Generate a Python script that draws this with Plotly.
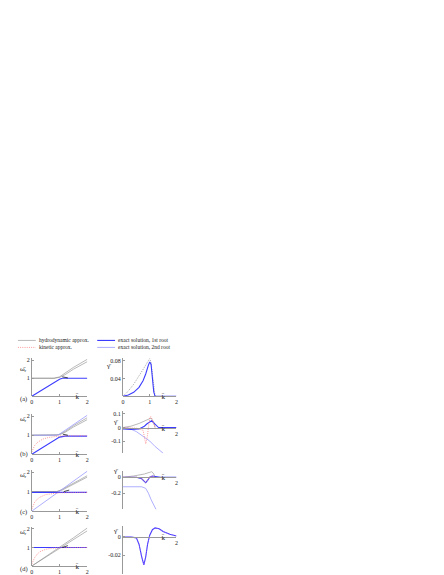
import plotly.graph_objects as go

W, H = 444, 575

# ---- data ----
# (a)
a_hydro_k = [0, 0.8, 1.0, 1.2, 1.5, 2.0]
a_hydro1_w = [1, 1, 1.05, 1.2, 1.5, 1.92]
a_hydro2_w = [1, 1, 1.08, 1.28, 1.6, 2.05]
a_exact1_k = [0, 0.5, 0.9, 1.0, 1.1, 1.2, 1.4, 2.0]
a_exact1_w = [0, 0.48, 0.86, 0.95, 1.0, 1.0, 1.0, 1.0]
a_mark_k = [1.1, 1.3]
a_mark_w = [1.08, 1.02]
a_g_exact1_k = [0, 0.2, 0.4, 0.6, 0.75, 0.85, 0.95, 1.0, 1.05, 1.1, 1.15, 1.2, 2.0]
a_g_exact1 = [0, 0.003, 0.009, 0.02, 0.035, 0.05, 0.07, 0.077, 0.072, 0.045, 0.01, 0, 0]
a_g_dot_k = [0, 0.2, 0.4, 0.6, 0.8, 0.95, 1.0, 1.05, 1.1, 1.15, 1.2]
a_g_dot = [0, 0.012, 0.027, 0.045, 0.065, 0.08, 0.085, 0.075, 0.05, 0.02, 0]

# (b)
b_hydro_k = [0, 0.9, 1.0, 1.2, 1.5, 2.0]
b_hydro1_w = [1, 1, 1.03, 1.15, 1.43, 1.82]
b_hydro2_w = [1, 1, 1.05, 1.2, 1.5, 1.92]
b_exact2_k = [0, 0.9, 1.0, 1.2, 1.5, 2.0]
b_exact2_w = [1, 1, 1.06, 1.26, 1.56, 2.05]
b_exact1_k = [0, 0.5, 0.9, 1.0, 1.2, 2.0]
b_exact1_w = [0, 0.45, 0.83, 0.9, 0.95, 0.95]
b_kin_k = [0, 0.05, 0.1, 0.2, 0.3, 0.4, 0.6, 0.8, 1.0, 1.5, 2.0]
b_kin_w = [0.12, 0.3, 0.45, 0.62, 0.72, 0.8, 0.88, 0.93, 0.96, 0.97, 0.97]
b_mark_k = [1.12, 1.3]
b_mark_w = [1.05, 1.0]
b_g_hydro_k = [0, 0.3, 0.6, 0.8, 0.95, 1.05, 1.15, 1.2]
b_g_hydro = [0, 0.01, 0.03, 0.05, 0.065, 0.07, 0.04, 0]
b_g_kin_k = [0, 0.5, 0.75, 0.8, 0.85, 0.9, 0.95, 1.0, 1.05, 1.1, 1.2]
b_g_kin = [0, -0.005, -0.02, -0.08, -0.12, -0.08, 0.02, 0.075, 0.08, 0.05, 0]
b_g_exact1_k = [0, 0.3, 0.6, 0.7, 0.8, 0.9, 1.0, 1.07, 1.15, 1.33, 2.0]
b_g_exact1 = [-0.01, -0.014, -0.01, -0.002, 0.01, 0.028, 0.045, 0.05, 0.035, 0, 0]
b_g_exact2_k = [0, 0.2, 0.5, 0.8, 1.0, 1.2, 1.5]
b_g_exact2 = [0, -0.003, -0.03, -0.07, -0.1, -0.14, -0.19]

# (c)
c_hydro_k = [0, 0.9, 1.1, 1.5, 2.0]
c_hydro1_w = [1, 1, 1.08, 1.38, 1.75]
c_hydro2_w = [1, 1, 1.12, 1.45, 1.82]
c_exact2_k = [0, 1.0, 2.0]
c_exact2_w = [0, 1.02, 2.05]
c_exact1_k = [0, 1.0, 2.0]
c_exact1_w = [0.96, 0.96, 0.96]
c_kin_k = [0, 0.05, 0.1, 0.2, 0.3, 0.5, 0.7, 1.0, 2.0]
c_kin_w = [0.1, 0.3, 0.45, 0.62, 0.72, 0.85, 0.9, 0.94, 0.96]
c_mark_k = [1.15, 1.35]
c_mark_w = [1.0, 1.08]
c_g_hydro_k = [0, 0.4, 0.8, 1.0, 1.08, 1.15, 1.2]
c_g_hydro = [0, 0.015, 0.04, 0.06, 0.07, 0.04, 0]
c_g_exact1_k = [0, 0.5, 0.7, 0.8, 0.85, 0.92, 1.0, 1.1, 1.2, 1.4, 2.0]
c_g_exact1 = [0, 0, -0.02, -0.05, -0.07, -0.04, 0.0, 0.015, 0.01, 0, 0]
c_g_exact2_k = [0, 0.4, 0.7, 0.85, 0.95, 1.05, 1.15, 1.26]
c_g_exact2 = [-0.12, -0.12, -0.12, -0.14, -0.2, -0.28, -0.35, -0.42]
c_g_kin_k = [0, 0.5, 0.7, 0.8, 0.85, 0.92, 1.0, 1.1, 1.2]
c_g_kin = [0, 0, -0.015, -0.045, -0.065, -0.035, 0.005, 0.015, 0]

# (d)
d_hydro_k = [0, 0.5, 1.0, 1.5, 2.0]
d_hydro1_w = [0, 0.47, 0.95, 1.42, 1.9]
d_hydro2_w = [0, 0.5, 1.01, 1.52, 2.05]
d_exact1_k = [0, 2.0]
d_exact1_w = [1.0, 1.0]
d_kin_k = [0, 0.05, 0.1, 0.2, 0.3, 0.5, 0.7, 1.0, 2.0]
d_kin_w = [0.1, 0.3, 0.45, 0.65, 0.78, 0.9, 0.96, 0.99, 1.0]
d_mark_k = [1.1, 1.3]
d_mark_w = [1.0, 1.1]
d_g_exact1_k = [0, 0.3, 0.5, 0.6, 0.7, 0.78, 0.85, 0.92, 1.0, 1.1, 1.2, 1.35, 1.5, 1.75, 2.0]
d_g_exact1 = [0, 0, -0.001, -0.008, -0.022, -0.031, -0.022, -0.008, 0.002, 0.008, 0.01, 0.009, 0.006, 0.003, 0.001]

# ---- styles ----
GRAY = dict(color='#8a8a8a', width=0.6)
GRAYDOT = dict(color='#8a8a8a', width=0.8, dash='1px,1.2px')
PINK = dict(color='#ff8080', width=0.8, dash='1px,1.2px')
BLUE = dict(color='#3c3cff', width=1.1)
LBLUE = dict(color='#9a9aff', width=0.8)
BLACK = dict(color='black', width=0.7)
FONT = dict(family='Liberation Serif', size=6, color='#222222')


def px(x):
    return x / W


def py(y):
    return 1 - y / H


# panel layout in pixels: (left px, right px, top px, bottom px, yrange)
panels = [
    (22, 78, 350, 388, [0, 2.1]),
    (114, 168, 350, 388, [0, 0.085]),
    (22, 78, 406, 446, [0, 2.1]),
    (114, 168, 403, 445, [-0.19, 0.12]),
    (22, 78, 462, 503, [0, 2.1]),
    (114, 168, 463, 501, [-0.4, 0.075]),
    (22, 78, 519, 558, [0, 2.1]),
    (114, 168, 518, 566, [-0.041, 0.012]),
]
ytick = [
    ([1, 2], ['1', '2']),
    ([0.04, 0.08], ['0.04', '0.08']),
    ([1, 2], ['1', '2']),
    ([-0.1, 0, 0.1], ['-0.1', '0', '0.1']),
    ([1, 2], ['1', '2']),
    ([-0.2, 0], ['-0.2', '0']),
    ([1, 2], ['1', '2']),
    ([-0.02, 0], ['-0.02', '0']),
]
xtick = [
    ([0, 1, 2], ['0', '1', '2']),
    ([0, 1, 2], ['0', '1', '2']),
    ([0, 1, 2], ['0', '1', '2']),
    ([2], ['2']),
    ([0, 1, 2], ['0', '1', '2']),
    ([2], ['2']),
    ([0, 1, 2], ['0', '1', '2']),
    ([2], ['2']),
]

fig = go.Figure()


def add(i, k, v, line):
    n = '' if i == 0 else str(i + 1)
    fig.add_trace(go.Scatter(x=k, y=v, mode='lines', line=line,
                             xaxis='x' + n, yaxis='y' + n,
                             showlegend=False, hoverinfo='skip'))


# (a)
add(0, a_hydro_k, a_hydro1_w, GRAY)
add(0, a_hydro_k, a_hydro2_w, GRAY)
add(0, a_exact1_k, a_exact1_w, BLUE)
add(0, a_mark_k, a_mark_w, BLACK)
add(1, a_g_dot_k, a_g_dot, GRAYDOT)
add(1, a_g_exact1_k, a_g_exact1, BLUE)
# (b)
add(2, b_hydro_k, b_hydro1_w, GRAY)
add(2, b_hydro_k, b_hydro2_w, GRAY)
add(2, b_exact2_k, b_exact2_w, LBLUE)
add(2, b_exact1_k, b_exact1_w, BLUE)
add(2, b_kin_k, b_kin_w, PINK)
add(2, b_mark_k, b_mark_w, BLACK)
add(3, b_g_hydro_k, b_g_hydro, GRAY)
add(3, b_g_exact2_k, b_g_exact2, LBLUE)
add(3, b_g_exact1_k, b_g_exact1, BLUE)
add(3, b_g_kin_k, b_g_kin, PINK)
# (c)
add(4, c_hydro_k, c_hydro1_w, GRAY)
add(4, c_hydro_k, c_hydro2_w, GRAY)
add(4, c_exact2_k, c_exact2_w, LBLUE)
add(4, c_exact1_k, c_exact1_w, BLUE)
add(4, c_kin_k, c_kin_w, PINK)
add(4, c_mark_k, c_mark_w, BLACK)
add(5, c_g_hydro_k, c_g_hydro, GRAY)
add(5, c_g_exact2_k, c_g_exact2, LBLUE)
add(5, c_g_exact1_k, c_g_exact1, BLUE)
add(5, c_g_kin_k, c_g_kin, PINK)
# (d)
add(6, d_hydro_k, d_hydro1_w, GRAY)
add(6, d_hydro_k, d_hydro2_w, GRAY)
add(6, d_exact1_k, d_exact1_w, BLUE)
add(6, d_kin_k, d_kin_w, PINK)
add(6, d_mark_k, d_mark_w, BLACK)
add(7, d_g_exact1_k, d_g_exact1, BLUE)
add(7, d_g_exact1_k, d_g_exact1, dict(color='#d070ff', width=0.5, dash='1px,1.2px'))

layout = dict(width=W, height=H, margin=dict(l=0, r=0, t=0, b=0),
              paper_bgcolor='white', plot_bgcolor='rgba(0,0,0,0)',
              font=FONT, showlegend=False)
axstyle = dict(showgrid=False, zeroline=False, showline=True,
               linecolor='#999999', linewidth=0.8, ticks='inside', ticklen=2,
               tickwidth=0.5, tickcolor='#999999', tickfont=FONT)

for i, (l, r, t, b, yr) in enumerate(panels):
    n = '' if i == 0 else str(i + 1)
    yb, yt = py(b), py(t)
    # x axis sits at y=0
    y0 = yb + (0 - yr[0]) / (yr[1] - yr[0]) * (yt - yb)
    layout['xaxis' + n] = dict(axstyle, domain=[px(l), px(r)], range=[0, 2],
                               anchor='free', position=y0,
                               tickvals=xtick[i][0], ticktext=xtick[i][1])
    layout['yaxis' + n] = dict(axstyle, domain=[yb, yt], range=yr,
                               anchor='x' + n,
                               tickvals=ytick[i][0], ticktext=ytick[i][1])

fig.update_layout(**layout)

ann = []
# axis titles
for i, (l, r, t, b, yr) in enumerate(panels):
    left = i % 2 == 0
    yb, yt = py(b), py(t)
    y0 = yb + (0 - yr[0]) / (yr[1] - yr[0]) * (yt - yb)
    ann.append(dict(x=px(l + (r - l) * 0.74), y=y0 - 7 / H,
                    xref='paper', yref='paper', text='k̄', showarrow=False,
                    font=dict(FONT, size=7)))
    if left:
        ann.append(dict(x=px(l - 14), y=py(t + 11), xref='paper',
                        yref='paper', text='ω̄<sub>r</sub>', showarrow=False,
                        font=dict(FONT, size=7)))
    else:
        if i == 1:
            xx, yy = px(l - 19), py(t + 8)
        else:
            xx, yy = px(l - 12), y0
        ann.append(dict(x=xx, y=yy, xref='paper', yref='paper',
                        text='γ̄', showarrow=False,
                        font=dict(FONT, size=7)))

for lab, y in zip(['(a)', '(b)', '(c)', '(d)'], [397, 452, 510, 567]):
    ann.append(dict(x=px(8), y=py(y), xref='paper', yref='paper', text=lab,
                    showarrow=False, font=dict(FONT, size=6.5)))

# legend
leg = [
    (8, 332, GRAY, 'hydrodynamic approx.'),
    (88, 332, BLUE, 'exact solution, 1st root'),
    (8, 339, PINK, 'kinetic approx.'),
    (88, 339, LBLUE, 'exact solution, 2nd root'),
]
shapes = []
for x, y, line, txt in leg:
    shapes.append(dict(type='line', xref='paper', yref='paper',
                       x0=px(x), x1=px(x + 18), y0=py(y), y1=py(y), line=line))
    ann.append(dict(x=px(x + 19), y=py(y), xref='paper', yref='paper',
                    text=txt, showarrow=False, xanchor='left',
                    font=dict(FONT, size=5.5)))

fig.update_layout(annotations=ann, shapes=shapes)
fig.write_html("out.html")
